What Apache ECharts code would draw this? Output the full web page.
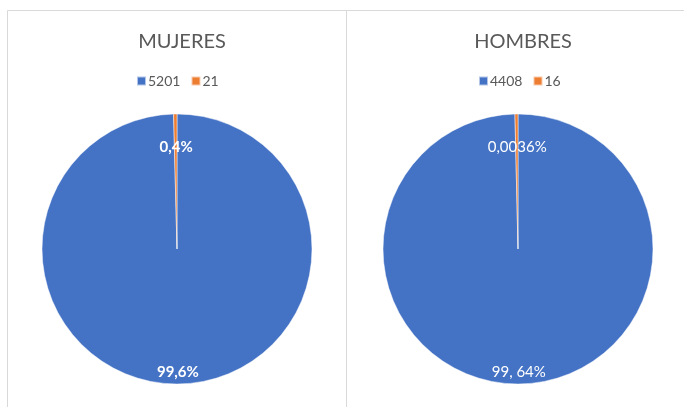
<!DOCTYPE html>
<html>
<head>
<meta charset="utf-8">
<script src="https://cdn.jsdelivr.net/npm/echarts@6/dist/echarts.min.js"></script>
<style>html,body{margin:0;padding:0;background:#fff}#c{width:684px;height:407px}</style>
</head>
<body>
<div id="c"></div>
<script>
const titles = ['MUJERES', 'HOMBRES'];
const categoriesM = ['5201', '21'];
const valuesM = [5201, 21];
const labelsM = ['99,6%', '0,4%'];
const categoriesH = ['4408', '16'];
const valuesH = [4408, 16];
const labelsH = ['99, 64%', '0,0036%'];
const colors = ['#4472C4', '#ED7D31'];

const font = 'Lato, "Open Sans", sans-serif';
function makeData(cats, vals, labels, bold) {
  return cats.map((c, i) => ({
    name: c,
    value: vals[i],
    label: {
      formatter: labels[i],
      offset: i === 0 ? [0, 53] : [0, -31],
      fontWeight: bold ? 'bold' : 'normal'
    }
  }));
}
function pie(center, cats, vals, labels, bold) {
  return {
    type: 'pie',
    center: center,
    radius: 135,
    startAngle: 90,
    clockwise: true,
    animation: false,
    silent: true,
    avoidLabelOverlap: false,
    label: { show: true, position: 'inside', color: '#fff', fontSize: 15, fontFamily: font },
    labelLine: { show: false },
    itemStyle: { borderColor: 'rgba(255,255,255,0.6)', borderWidth: 0.8 },
    emphasis: { disabled: true },
    data: makeData(cats, vals, labels, bold)
  };
}
const legendText = { fontFamily: font, fontSize: 14, color: '#595959', padding: [0, 0, 0, -3] };
const chart = echarts.init(document.getElementById('c'), null, { renderer: 'canvas' });
chart.setOption({
  animation: false,
  color: colors,
  graphic: [
    { type: 'rect', shape: { x: 7.5, y: 10.5, width: 720, height: 440 }, style: { fill: 'none', stroke: '#d9d9d9', lineWidth: 1 }, silent: true },
    { type: 'line', shape: { x1: 346.5, y1: 10.5, x2: 346.5, y2: 420 }, style: { stroke: '#d9d9d9', lineWidth: 1 }, silent: true }
  ],
  title: [
    { text: titles[0], left: 177, top: 27, textAlign: 'center', textStyle: { fontFamily: font, fontSize: 20, fontWeight: 'normal', color: '#595959' } },
    { text: titles[1], left: 518, top: 27, textAlign: 'center', textStyle: { fontFamily: font, fontSize: 20, fontWeight: 'normal', color: '#595959' } }
  ],
  legend: [
    { data: categoriesM, left: 131, top: 69, itemWidth: 9, itemHeight: 9, itemGap: 10, icon: 'rect', textStyle: legendText },
    { data: categoriesH, left: 473, top: 69, itemWidth: 9, itemHeight: 9, itemGap: 10, icon: 'rect', textStyle: legendText }
  ],
  series: [
    pie([177, 249], categoriesM, valuesM, labelsM, true),
    pie([518, 249], categoriesH, valuesH, labelsH, false)
  ]
});
</script>
</body>
</html>
